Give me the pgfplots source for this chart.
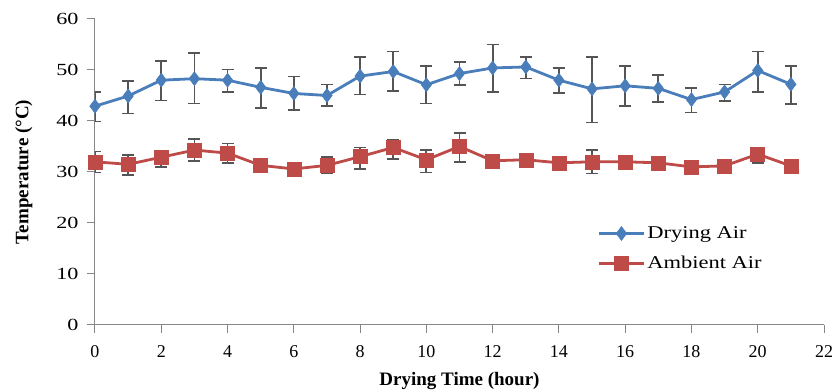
\documentclass[border=0pt]{standalone}
\usepackage{fontspec}
\setmainfont{Liberation Serif}
\usepackage{graphicx}
\usepackage{pgfplots}
\pgfplotsset{compat=1.18}
\definecolor{dblue}{RGB}{74,126,187}
\definecolor{dred}{RGB}{190,75,72}
\definecolor{axgray}{RGB}{134,134,134}
\definecolor{errgray}{RGB}{85,85,85}
\begin{document}
\begin{tikzpicture}
\begin{axis}[name=ax,
  scale only axis, width=729pt, height=306pt,
  xmin=0, xmax=22, ymin=0, ymax=60,
  xtick={0,2,...,22}, ytick={0,10,...,60},
  axis x line*=bottom, axis y line*=left,
  axis line style={axgray, line width=1pt},
  tick style={axgray, line width=1pt},
  tick align=outside, major tick length=8pt,
  /pgf/number format/assume math mode=true,
  xticklabel style={font=\fontsize{18}{18}\selectfont, yshift=-9pt},
  yticklabel style={font=\fontsize{17}{17}\selectfont, xscale=1.3, xshift=-3pt},
  xlabel={\textbf{Drying Time (hour)}},
  xlabel style={font=\fontsize{19}{19}\selectfont, yshift=-8pt},
  ylabel={\textbf{Temperature (°C)}},
  ylabel style={font=\fontsize{19}{19}\selectfont, yshift=16pt},
  legend style={draw=none, fill=none, at={(0.685,0.25)}, anchor=west,
    font=\fontsize{18}{18}\selectfont, row sep=12pt,
    /tikz/every even column/.append style={column sep=2pt}},
  legend cell align=left,
  legend image code/.code={\draw[#1] (0pt,0pt) -- (45pt,0pt); \draw[#1, mark repeat=2, mark phase=2] plot coordinates {(0pt,0pt) (22.5pt,0pt) (45pt,0pt)};},
]
\addplot[color=dblue, line width=2.8pt, mark=diamond*, mark size=7pt, mark options={solid, fill=dblue, line width=0.5pt},
  error bars/.cd, y dir=both, y explicit,
  error bar style={errgray, line width=1.8pt},
  error mark options={rotate=90, mark size=6pt, errgray, line width=1.5pt}]
table[x=x, y=y, y error plus=p, y error minus=m] {
x y p m
0 42.9 2.8 3.0
1 44.9 2.9 3.4
2 48.0 3.8 4.0
3 48.3 5.0 4.9
4 48.0 2.1 2.3
5 46.6 3.8 4.1
6 45.4 3.3 3.2
7 45.0 2.2 2.1
8 48.8 3.7 3.6
9 49.7 3.9 3.8
10 47.1 3.7 3.7
11 49.3 2.3 2.2
12 50.4 4.6 4.7
13 50.6 1.9 2.3
14 48.0 2.4 2.5
15 46.3 6.2 6.6
16 46.9 3.9 4.0
17 46.4 2.6 2.7
18 44.2 2.3 2.5
19 45.7 1.5 1.8
20 49.9 3.7 4.2
21 47.2 3.6 3.9
};
\addlegendentry{\scalebox{1.25}[1]{Drying Air}}
\addplot[color=dred, line width=2.8pt, mark=square*, mark size=7pt, mark options={solid, fill=dred, line width=0.5pt},
  error bars/.cd, y dir=both, y explicit,
  error bar style={errgray, line width=1.8pt},
  error mark options={rotate=90, mark size=6pt, errgray, line width=1.5pt}]
table[x=x, y=y, y error plus=p, y error minus=m] {
x y p m
0 32.0 2.0 2.1
1 31.5 1.8 2.1
2 32.9 1.2 1.9
3 34.3 2.2 2.1
4 33.7 1.9 1.9
5 31.3 0 0
6 30.6 0 0
7 31.3 1.6 1.6
8 33.0 1.8 2.4
9 34.8 1.5 2.3
10 32.4 1.9 2.5
11 35.0 2.6 3.0
12 32.2 0.3 0.3
13 32.4 0.3 1.4
14 31.8 0.4 1.4
15 32.0 2.3 2.3
16 32.0 0 0
17 31.8 0 0
18 31.0 0 0
19 31.2 1.2 1.5
20 33.5 0.5 1.7
21 31.2 0 0
};
\addlegendentry{\scalebox{1.25}[1]{Ambient Air}}
\end{axis}
\path (ax.south west) ++(-95pt,-67pt) coordinate (bba);
\path (ax.north east) ++(12pt,19pt) coordinate (bbb);
\pgfresetboundingbox
\path[use as bounding box] (bba) rectangle (bbb);
\end{tikzpicture}
\end{document}
